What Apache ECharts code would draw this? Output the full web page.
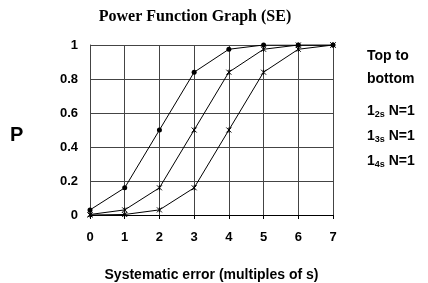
<!DOCTYPE html>
<html><head><meta charset="utf-8">
<script src="https://cdn.jsdelivr.net/npm/echarts@6/dist/echarts.min.js"></script>
<style>html,body{margin:0;padding:0;background:#fff}#c{width:428px;height:283px}</style>
</head><body><div id="c"></div>
<script>
var xValues = [0, 1, 2, 3, 4, 5, 6, 7];
var p12s = [0.03, 0.16, 0.5, 0.84, 0.975, 1, 1, 1];
var p13s = [0.003, 0.03, 0.16, 0.5, 0.84, 0.975, 1, 1];
var p14s = [0, 0.003, 0.03, 0.16, 0.5, 0.84, 0.975, 1];
var yTicks = [0, 0.2, 0.4, 0.6, 0.8, 1];

function pairs(arr){ return xValues.map(function(x,i){return [x, arr[i]];}); }
var xMark = 'path://M0,0L10,10M10,0L0,10M5,0L5,10';
var chart = echarts.init(document.getElementById('c'));
var lbl = {fontFamily:'Liberation Sans, Arial', fontWeight:'bold', fontSize:13, color:'#000'};
var legA = {fontFamily:'Liberation Sans, Arial', fontWeight:'bold', fontSize:14, fill:'#000'};
var legS = {fontFamily:'Liberation Sans, Arial', fontWeight:'bold', fontSize:9, fill:'#000', verticalAlign:'bottom', padding:[7,0,0,0]};
chart.setOption({
  animation:false,
  title:{text:'Power Function Graph (SE)', left:190, top:4, textAlign:'center',
    textStyle:{fontFamily:'Liberation Serif, Times New Roman', fontWeight:'bold', fontSize:16, color:'#000'}},
  grid:{left:90, right:95, top:45, bottom:68, containLabel:false, outerBoundsMode:'none'},
  xAxis:{type:'value', min:0, max:7, interval:1,
    name:'Systematic error (multiples of s)', nameLocation:'middle', nameGap:53,
    nameTextStyle:{fontFamily:'Liberation Sans, Arial', fontWeight:'bold', fontSize:14, color:'#000'},
    axisLine:{lineStyle:{color:'#000', width:1}},
    axisTick:{show:true, length:4, lineStyle:{color:'#000'}},
    axisLabel:Object.assign({margin:16}, lbl),
    splitLine:{show:true, lineStyle:{color:'#444', width:1}}},
  yAxis:{type:'value', min:0, max:1, interval:0.2,
    axisLine:{show:true, lineStyle:{color:'#444'}},
    axisTick:{show:false},
    axisLabel:Object.assign({margin:12, formatter:function(v){return String(Math.round(v*10)/10);}}, lbl),
    splitLine:{show:true, lineStyle:{color:'#444', width:1}}},
  graphic:[
    {type:'text', left:10, top:125, style:{text:'P', fontFamily:'Liberation Sans, Arial', fontWeight:'bold', fontSize:20, fill:'#000'}},
    {type:'text', left:367, top:45, style:Object.assign({text:'Top to\nbottom', lineHeight:23}, legA)},
    {type:'text', left:367, top:104, style:{text:'{a|1}{s|2s}{a| N=1}', rich:{a:legA, s:legS}}},
    {type:'text', left:367, top:129, style:{text:'{a|1}{s|3s}{a| N=1}', rich:{a:legA, s:legS}}},
    {type:'text', left:367, top:154, style:{text:'{a|1}{s|4s}{a| N=1}', rich:{a:legA, s:legS}}}
  ],
  series:[
    {type:'line', data:pairs(p12s), symbol:'circle', symbolSize:5, lineStyle:{color:'#000', width:1}, itemStyle:{color:'#000'}},
    {type:'line', data:pairs(p13s), symbol:xMark, symbolSize:5, lineStyle:{color:'#000', width:1}, itemStyle:{color:'#000', borderColor:'#000', borderWidth:1}},
    {type:'line', data:pairs(p14s), symbol:xMark, symbolSize:5, lineStyle:{color:'#000', width:1}, itemStyle:{color:'#000', borderColor:'#000', borderWidth:1}}
  ]
});
</script></body></html>
